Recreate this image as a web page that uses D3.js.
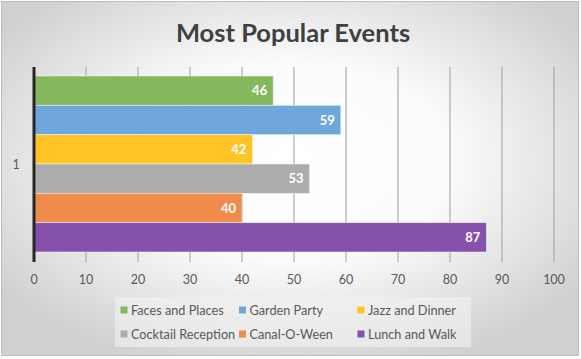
<!DOCTYPE html>
<html><head><meta charset="utf-8">
<script src="https://cdn.jsdelivr.net/npm/d3@7"></script>
<style>body{margin:0;background:#fff}svg{display:block}</style>
</head><body>
<svg id="c" width="581" height="359"></svg>
<script>
const categories = ["1"];
const seriesNames = ["Faces and Places","Garden Party","Jazz and Dinner","Cocktail Reception","Canal-O-Ween","Lunch and Walk"];
const seriesValues = [46,59,42,53,40,87];
const seriesColors = ["#84b75e","#6fa6dc","#ffc325","#acacac","#f08c4b","#8650ad"];
const xTicks = [0,10,20,30,40,50,60,70,80,90,100];

const svg = d3.select("#c");
const W=581,H=359;
const font = "Lato, 'Open Sans', sans-serif";
const defs = svg.append("defs");
const g = defs.append("radialGradient").attr("id","bg").attr("cx","50%").attr("cy","45%").attr("r","62%");
g.append("stop").attr("offset","0%").attr("stop-color","#ffffff");
g.append("stop").attr("offset","45%").attr("stop-color","#fbfbfb");
g.append("stop").attr("offset","100%").attr("stop-color","#d0d0d0");
svg.append("rect").attr("x",1.5).attr("y",1.5).attr("width",W-4).attr("height",H-5)
  .attr("fill","url(#bg)").attr("stroke","#bdbdbd").attr("stroke-width",1);

svg.append("text").attr("x",293).attr("y",42).attr("text-anchor","middle")
  .attr("font-family",font).attr("font-weight","bold").attr("font-size",25.5)
  .attr("fill","#404040").text("Most Popular Events");

const x = d3.scaleLinear().domain([0,100]).range([34,554]);
const y0 = d3.scaleBand().domain(categories).range([67,262]).paddingInner(0).paddingOuter(0.0);
const yb = d3.scaleBand().domain(seriesNames).range([76,252]);

// gridlines
svg.append("g").selectAll("line").data(xTicks.slice(1)).join("line")
  .attr("x1",d=>x(d)).attr("x2",d=>x(d)).attr("y1",67).attr("y2",262)
  .attr("stroke","#9e9e9e").attr("stroke-width",1);

// bars
svg.append("g").selectAll("rect").data(seriesNames).join("rect")
  .attr("x",x(0)).attr("y",d=>yb(d)).attr("width",(d,i)=>x(seriesValues[i])-x(0))
  .attr("height",yb.bandwidth())
  .attr("fill",(d,i)=>seriesColors[i]).attr("stroke","#f2f2f2").attr("stroke-width",0.8).attr("stroke-opacity",0.7);

// labels
svg.append("g").selectAll("text").data(seriesNames).join("text")
  .attr("x",(d,i)=>x(seriesValues[i])-6).attr("y",d=>yb(d)+yb.bandwidth()/2+4.5)
  .attr("text-anchor","end").attr("font-family",font).attr("font-weight","bold")
  .attr("font-size",13).attr("fill","#ffffff").text((d,i)=>seriesValues[i]);

// value axis line
svg.append("line").attr("x1",x(0)).attr("x2",x(0)).attr("y1",67).attr("y2",262)
  .attr("stroke","#262626").attr("stroke-width",3);

// x tick labels
svg.append("g").selectAll("text").data(xTicks).join("text")
  .attr("x",d=>x(d)).attr("y",284).attr("text-anchor","middle")
  .attr("font-family",font).attr("font-size",12.5).attr("fill","#595959").text(d=>d);

// category label
svg.append("text").attr("x",16).attr("y",y0("1")+y0.bandwidth()/2+4).attr("text-anchor","middle")
  .attr("font-family",font).attr("font-size",12.5).attr("fill","#595959").text(categories[0]);

// legend
const lg = svg.append("g");
lg.append("rect").attr("x",115).attr("y",297).attr("width",356).attr("height",50).attr("fill","#f2f2f2").attr("opacity",0.6);
const colX=[120.5,239,357.5], rowY=[310,334];
seriesNames.forEach((n,i)=>{
  const cx=colX[i%3], cy=rowY[Math.floor(i/3)];
  lg.append("rect").attr("x",cx).attr("y",cy-3.5).attr("width",7).attr("height",7).attr("fill",seriesColors[i]);
  lg.append("text").attr("x",cx+10.5).attr("y",cy+4.5).attr("font-family",font).attr("font-size",12.7)
    .attr("fill","#595959").text(n);
});
</script>
</body></html>
